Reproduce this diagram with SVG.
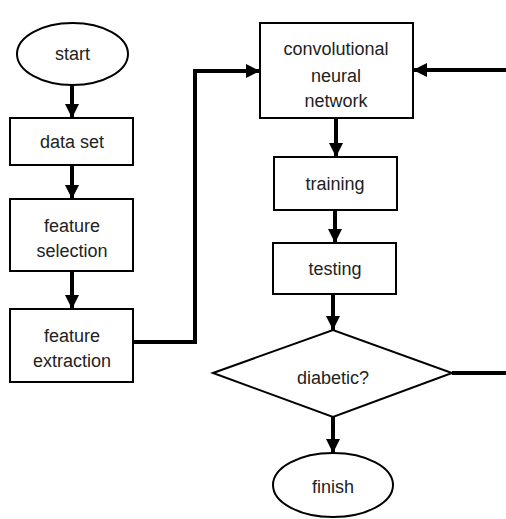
<svg xmlns="http://www.w3.org/2000/svg" width="506" height="519" viewBox="0 0 506 519">
<style>
.shape{fill:#fff;stroke:#000;stroke-width:2}
.lbl{font-family:"Liberation Sans",Arial,sans-serif;font-size:18px;fill:#222;text-anchor:middle}
.conn{fill:none;stroke:#000;stroke-width:4;stroke-linejoin:miter}
</style>
<defs>
<marker id="arr" markerUnits="userSpaceOnUse" markerWidth="14" markerHeight="14" viewBox="0 0 14 14" refX="14" refY="7" orient="auto">
<path d="M0,0 L14,7 L0,14 z" fill="#000"/>
</marker>
</defs>
<rect width="506" height="519" fill="#fff"/>
<g id="connectors">
<line class="conn" x1="72" y1="85" x2="72" y2="118" marker-end="url(#arr)"/>
<line class="conn" x1="72" y1="165" x2="72" y2="199" marker-end="url(#arr)"/>
<line class="conn" x1="72" y1="271" x2="72" y2="309" marker-end="url(#arr)"/>
<polyline class="conn" points="133,342 195,342 195,71 260,71" marker-end="url(#arr)"/>
<line class="conn" x1="506" y1="70" x2="413" y2="70" marker-end="url(#arr)"/>
<line class="conn" x1="336" y1="118" x2="336" y2="157" marker-end="url(#arr)"/>
<line class="conn" x1="335" y1="210" x2="335" y2="243" marker-end="url(#arr)"/>
<line class="conn" x1="333" y1="294" x2="333" y2="330" marker-end="url(#arr)"/>
<line class="conn" x1="452" y1="373" x2="506" y2="373"/>
<line class="conn" x1="333" y1="417" x2="333" y2="453" marker-end="url(#arr)"/>
</g>
<g id="start">
<ellipse class="shape" cx="72.5" cy="54" rx="55.5" ry="31"/>
<text class="lbl" x="72.5" y="60">start</text>
</g>
<g id="dataset">
<rect class="shape" x="10" y="118" width="123" height="47"/>
<text class="lbl" x="72" y="148">data set</text>
</g>
<g id="featureselection">
<rect class="shape" x="10" y="199" width="123" height="72"/>
<text class="lbl" x="72" y="232">feature</text>
<text class="lbl" x="72" y="257">selection</text>
</g>
<g id="featureextraction">
<rect class="shape" x="10" y="309" width="123" height="73"/>
<text class="lbl" x="72" y="342">feature</text>
<text class="lbl" x="72" y="367">extraction</text>
</g>
<g id="cnn">
<rect class="shape" x="260" y="23" width="153" height="95"/>
<text class="lbl" x="336" y="55">convolutional</text>
<text class="lbl" x="336" y="82">neural</text>
<text class="lbl" x="336" y="107">network</text>
</g>
<g id="training">
<rect class="shape" x="274" y="157" width="123" height="53"/>
<text class="lbl" x="335" y="190">training</text>
</g>
<g id="testing">
<rect class="shape" x="273" y="243" width="123" height="51"/>
<text class="lbl" x="335" y="275">testing</text>
</g>
<g id="diabetic">
<polygon class="shape" points="213,373 333,330 452,373 333,417"/>
<text class="lbl" x="333" y="384">diabetic?</text>
</g>
<g id="finish">
<ellipse class="shape" cx="333" cy="485" rx="60" ry="32"/>
<text class="lbl" x="333" y="493">finish</text>
</g>
</svg>
